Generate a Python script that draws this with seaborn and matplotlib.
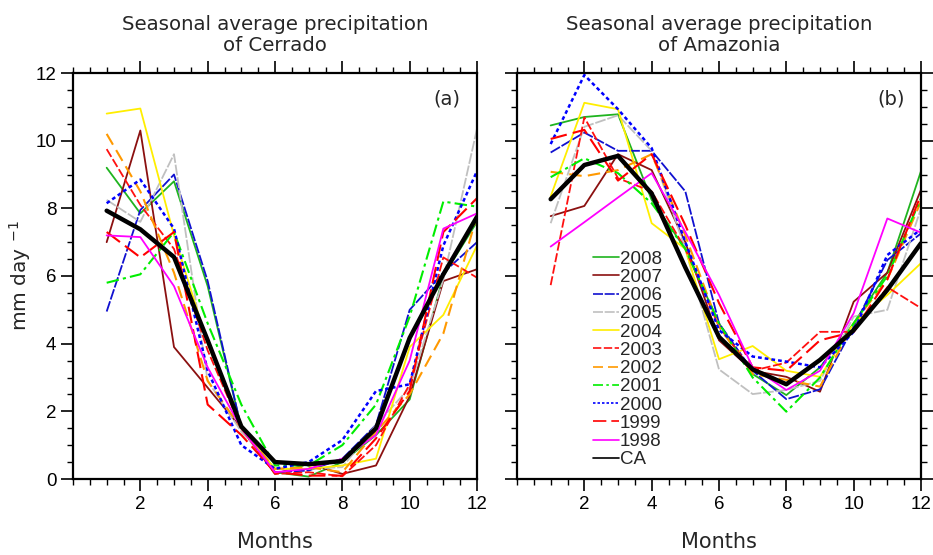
import matplotlib
matplotlib.use("Agg")
import matplotlib.pyplot as plt
from matplotlib.ticker import MultipleLocator
import seaborn as sns
import pandas as pd

months = list(range(1, 13))
years = ["2008", "2007", "2006", "2005", "2004", "2003", "2002", "2001", "2000", "1999", "1998", "CA"]

cerrado_2008 = [9.2, 7.85, 8.8, 5.7, 1.5, 0.2, 0.07, 0.5, 1.3, 2.35, 6.0, 7.6]
cerrado_2007 = [7.0, 10.3, 3.9, 2.7, 1.5, 0.15, 0.45, 0.15, 0.4, 2.45, 5.85, 6.2]
cerrado_2006 = [4.95, 7.95, 9.0, 5.85, 1.5, 0.2, 0.25, 0.6, 1.6, 5.0, 6.1, 7.0]
cerrado_2005 = [8.25, 7.6, 9.6, 2.9, 1.4, 0.3, 0.3, 0.35, 1.6, 2.7, 5.9, 10.35]
cerrado_2004 = [10.8, 10.95, 7.2, 4.0, 1.5, 0.3, 0.3, 0.4, 0.6, 3.9, 4.85, 6.9]
cerrado_2003 = [9.75, 8.1, 6.8, 3.8, 1.5, 0.15, 0.2, 0.08, 1.0, 2.8, 6.55, 5.95]
cerrado_2002 = [10.2, 8.5, 6.1, 2.9, 1.5, 0.3, 0.35, 0.2, 1.4, 2.5, 4.3, 7.8]
cerrado_2001 = [5.8, 6.05, 7.3, 4.6, 2.2, 0.4, 0.4, 1.0, 2.2, 4.8, 8.2, 8.05]
cerrado_2000 = [8.15, 8.85, 7.4, 3.2, 1.0, 0.3, 0.5, 1.15, 2.6, 2.8, 6.9, 9.1]
cerrado_1999 = [7.3, 6.55, 7.3, 2.2, 1.3, 0.2, 0.1, 0.1, 1.2, 2.6, 7.3, 8.3]
cerrado_1998 = [7.2, 7.15, 5.7, 3.3, 1.5, 0.2, 0.3, 0.6, 1.3, 3.5, 7.4, 7.85]
cerrado_ca = [7.93, 7.38, 6.56, 4.1, 1.55, 0.5, 0.44, 0.53, 1.5, 4.17, 6.05, 7.75]

amazonia_2008 = [10.45, 10.7, 10.78, 8.25, 6.8, 4.6, 3.1, 2.48, 3.3, 4.6, 6.1, 9.1]
amazonia_2007 = [7.77, 8.07, 9.6, 9.13, 7.0, 4.1, 3.2, 3.02, 2.58, 5.24, 6.1, 8.55]
amazonia_2006 = [9.65, 10.24, 9.7, 9.7, 8.5, 4.6, 3.2, 2.36, 2.65, 4.5, 6.47, 7.26]
amazonia_2005 = [7.56, 10.41, 10.75, 9.7, 6.8, 3.24, 2.51, 2.63, 2.9, 4.8, 5.0, 8.0]
amazonia_2004 = [8.35, 11.12, 10.93, 7.56, 6.8, 3.54, 3.93, 3.2, 3.02, 4.6, 5.44, 6.38]
amazonia_2003 = [5.73, 10.69, 8.89, 8.5, 6.8, 4.5, 3.2, 3.44, 4.35, 4.35, 5.67, 5.05]
amazonia_2002 = [9.08, 8.95, 9.13, 9.6, 7.2, 4.5, 3.1, 2.93, 2.73, 4.6, 5.9, 8.2]
amazonia_2001 = [8.92, 9.48, 9.04, 8.15, 6.8, 4.6, 3.0, 1.99, 3.0, 4.6, 6.0, 8.3]
amazonia_2000 = [9.9, 11.94, 10.93, 9.78, 7.0, 4.4, 3.62, 3.47, 3.3, 4.35, 6.62, 7.38]
amazonia_1999 = [10.05, 10.32, 8.82, 9.6, 7.5, 5.2, 3.3, 3.2, 4.1, 4.35, 5.9, 8.4]
amazonia_1998 = [6.87, 7.59, 8.32, 9.04, 7.3, 5.44, 3.3, 2.63, 3.2, 4.9, 7.7, 7.28]
amazonia_ca = [8.27, 9.28, 9.55, 8.44, 6.25, 4.2, 3.24, 2.8, 3.52, 4.4, 5.59, 6.97]

cerrado = [cerrado_2008, cerrado_2007, cerrado_2006, cerrado_2005, cerrado_2004, cerrado_2003,
           cerrado_2002, cerrado_2001, cerrado_2000, cerrado_1999, cerrado_1998, cerrado_ca]
amazonia = [amazonia_2008, amazonia_2007, amazonia_2006, amazonia_2005, amazonia_2004, amazonia_2003,
            amazonia_2002, amazonia_2001, amazonia_2000, amazonia_1999, amazonia_1998, amazonia_ca]

colors = ["#1fb41f", "#8b1010", "#1010d0", "#c0c0c0", "#ffee00", "#ff1010",
          "#ff9900", "#00ee00", "#0000ff", "#ff0000", "#ff00ff", "#000000"]
styles = ["-", "-", (0, (6, 1)), (0, (6, 1)), "-", (0, (5, 1.5)),
          (0, (6, 3)), (0, (6, 2, 1.5, 2)), (0, (1.5, 1.2)), (0, (8, 3)), "-", "-"]
widths = [1.3, 1.3, 1.3, 1.3, 1.3, 1.3, 1.5, 1.5, 1.8, 1.5, 1.3, 3.2]

sns.set_theme(style="white")
plt.rcParams["font.family"] = ["DejaVu Sans"]

fig = plt.figure(figsize=(9.33, 5.55), dpi=100)
axL = fig.add_axes([73 / 933, 76 / 555, 404 / 933, 406 / 555])
axR = fig.add_axes([517 / 933, 76 / 555, 404 / 933, 406 / 555])

tickfont = {"family": "Liberation Sans", "size": 13.5}

def draw(ax, data, title, tag):
    for lab, vals, c, ls, lw in zip(years, data, colors, styles, widths):
        df = pd.DataFrame({"month": months, "value": vals})
        sns.lineplot(data=df, x="month", y="value", ax=ax, color=c, linestyle=ls,
                     linewidth=lw, label=lab, legend=False)
    ax.set_xlim(0, 12)
    ax.set_ylim(0, 12)
    ax.xaxis.set_major_locator(MultipleLocator(2))
    ax.xaxis.set_minor_locator(MultipleLocator(0.5))
    ax.yaxis.set_major_locator(MultipleLocator(2))
    ax.yaxis.set_minor_locator(MultipleLocator(0.5))
    ax.set_xticks([2, 4, 6, 8, 10, 12])
    ax.set_xticklabels(["2", "4", "6", "8", "10", "12"], fontdict=tickfont)
    for s in ax.spines.values():
        s.set_linewidth(1.6)
        s.set_color("black")
    ax.set_xlabel("Months", fontsize=15, labelpad=14)
    ax.set_ylabel("")
    ax.set_title(title, fontsize=14.2, pad=16, linespacing=1.15)
    ax.text(0.925, 0.935, tag, transform=ax.transAxes, fontsize=14, ha="center", va="center")

draw(axL, cerrado, "Seasonal average precipitation\nof Cerrado", "(a)")
draw(axR, amazonia, "Seasonal average precipitation\nof Amazonia", "(b)")

axL.set_yticks([0, 2, 4, 6, 8, 10, 12])
axL.set_yticklabels(["0", "2", "4", "6", "8", "10", "12"], fontdict=tickfont)
axL.set_ylabel("mm day $^{-1}$", fontsize=14.5, labelpad=2)
axL.tick_params(which="both", direction="out", top=True, bottom=True, left=True, right=False,
                colors="black")
axR.tick_params(which="both", direction="out", top=True, bottom=True, left=True, right=True,
                labelleft=False, colors="black")
for ax in (axL, axR):
    ax.tick_params(which="major", length=8.5, width=1.2)
    ax.tick_params(which="minor", length=4.3, width=1.0)

handles, labels = axR.get_legend_handles_labels()
leg = axR.legend(handles, labels, loc="upper left", bbox_to_anchor=(0.155, 0.595),
                 frameon=False, prop={"family": "Liberation Sans", "size": 13.5},
                 handlelength=1.4, handletextpad=0.05, labelspacing=0.06, borderpad=0.2)
for ln in leg.get_lines():
    ln.set_linewidth(1.2)

fig.savefig("out.png", dpi=100)
